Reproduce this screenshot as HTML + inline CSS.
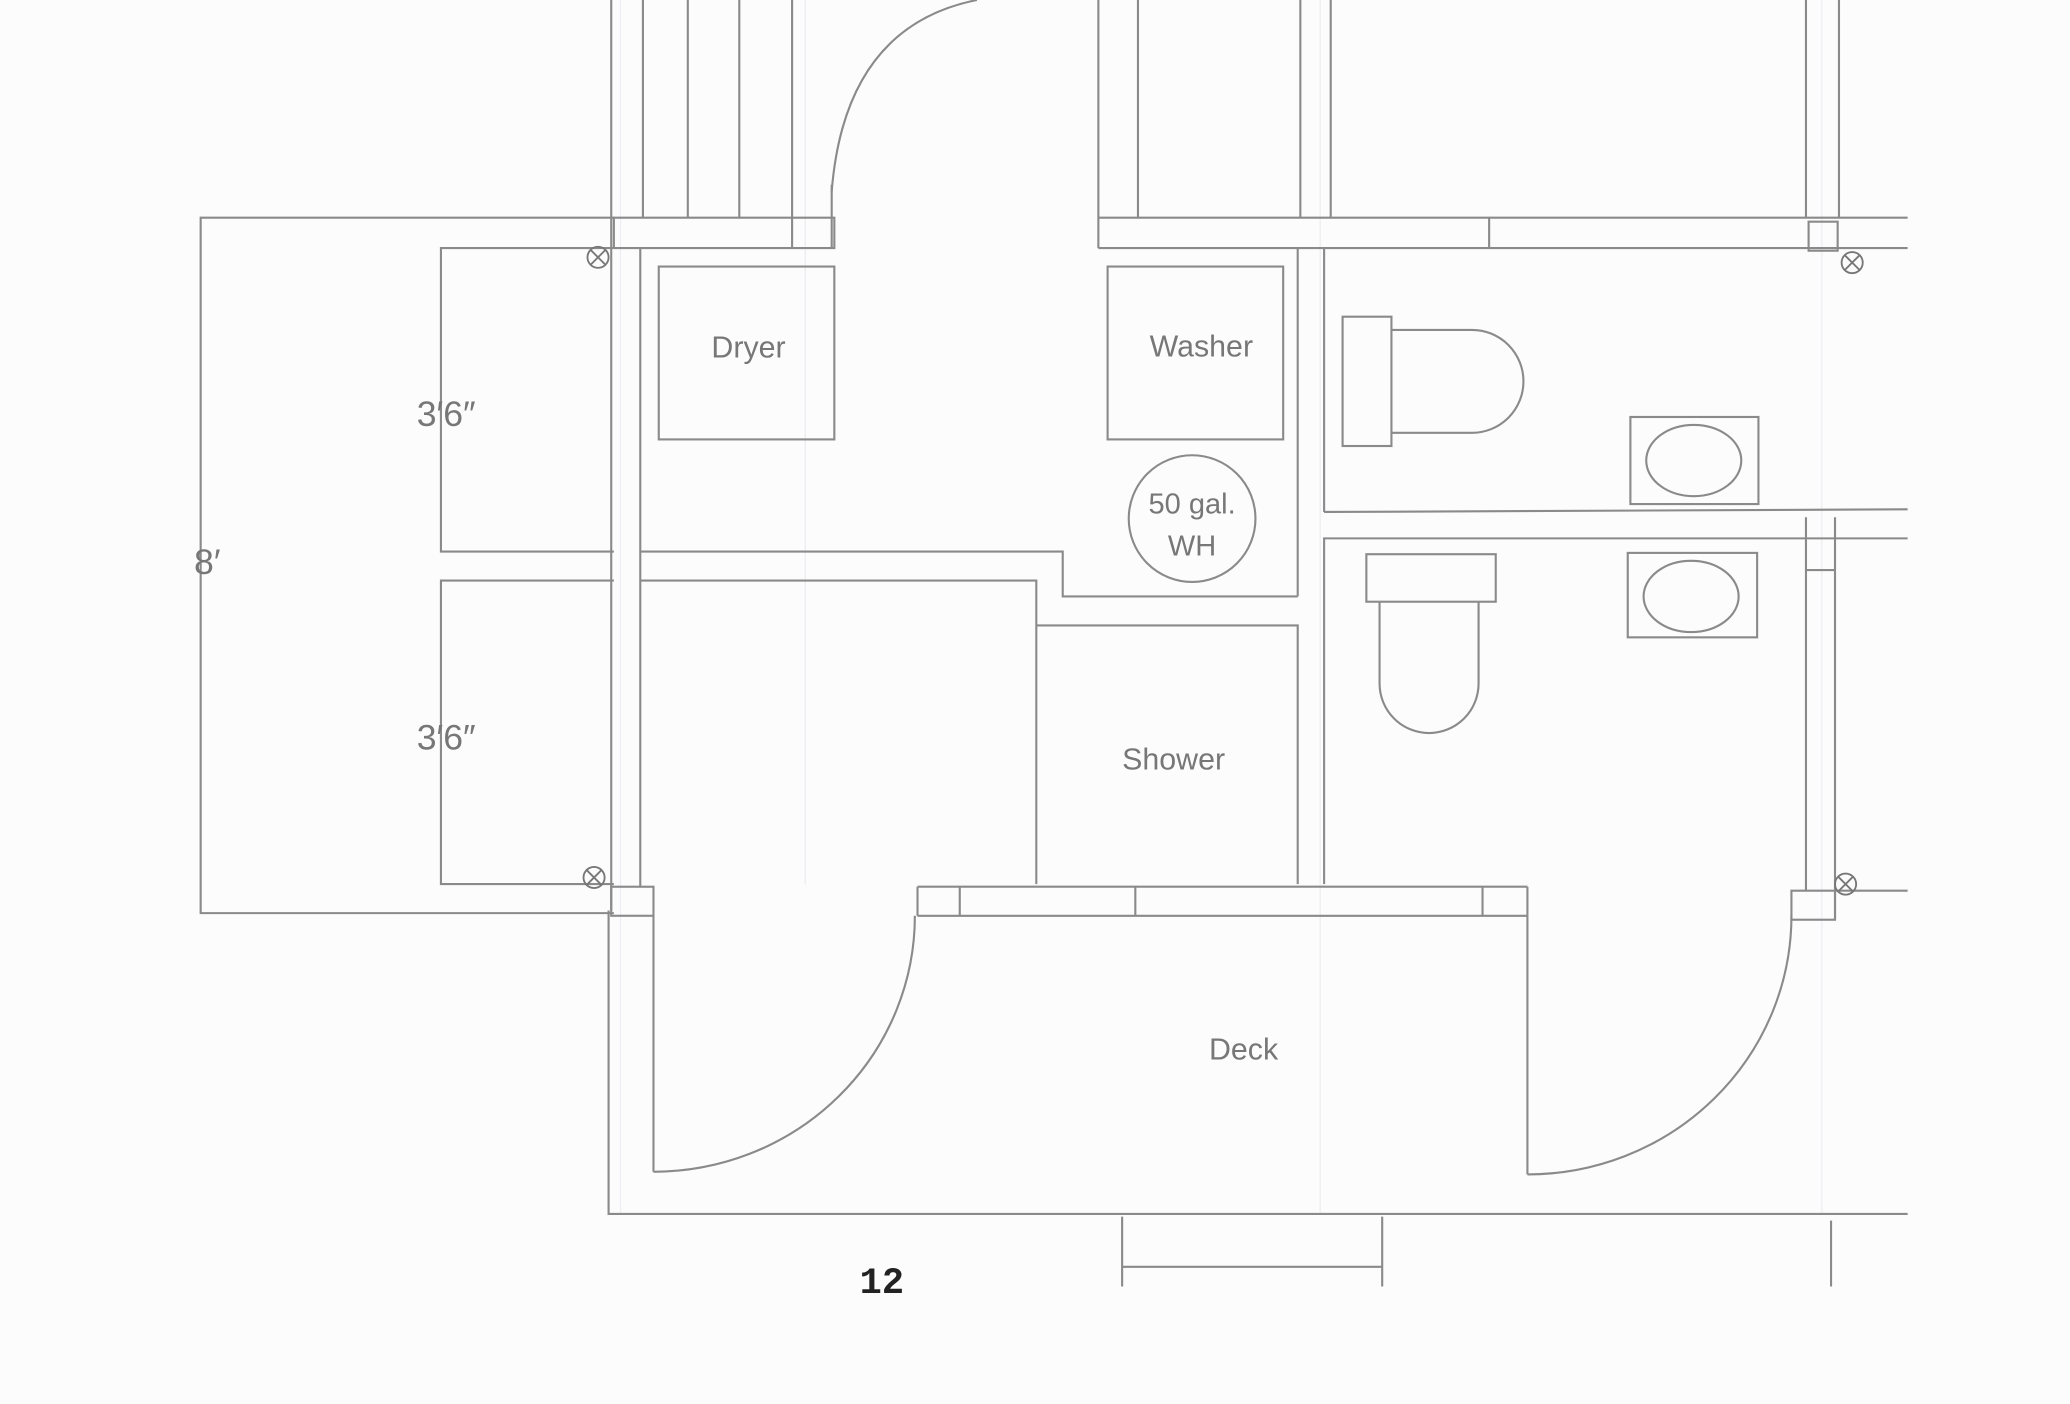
<!DOCTYPE html>
<html><head><meta charset="utf-8"><style>
html,body{margin:0;padding:0;background:#fcfcfd;}
svg{display:block;}
text{font-family:"Liberation Sans",sans-serif;fill:#777;}
</style></head><body>
<svg width="2070" height="1404" viewBox="0 0 1568 1064" preserveAspectRatio="none" xmlns="http://www.w3.org/2000/svg">
<rect width="1568" height="1064" fill="#fcfcfd"/>
<g stroke="#eceef2" stroke-width="1" fill="none">
<line x1="470" y1="0" x2="470" y2="920"/><line x1="610" y1="0" x2="610" y2="670"/>
<line x1="1000" y1="0" x2="1000" y2="920"/><line x1="1380" y1="0" x2="1380" y2="920"/>
</g>
<g stroke="#8a8a8a" stroke-width="1.6" fill="none">
<!-- dimension lines -->
<polyline points="465,165 152,165 152,692 465,692"/>
<polyline points="465,188 334,188 334,418 465,418"/>
<polyline points="465,440 334,440 334,670 465,670"/>
<!-- top verticals -->
<line x1="463" y1="0" x2="463" y2="165"/><line x1="487" y1="0" x2="487" y2="165"/>
<line x1="521" y1="0" x2="521" y2="165"/><line x1="560" y1="0" x2="560" y2="165"/>
<line x1="600" y1="0" x2="600" y2="188"/>
<line x1="630" y1="140" x2="630" y2="188"/>
<path d="M630,145 Q640,20 740,0"/>
<line x1="832" y1="0" x2="832" y2="188"/><line x1="862" y1="0" x2="862" y2="165"/>
<line x1="985" y1="0" x2="985" y2="165"/><line x1="1008" y1="0" x2="1008" y2="165"/>
<line x1="1368" y1="0" x2="1368" y2="165"/><line x1="1393" y1="0" x2="1393" y2="165"/>
<!-- top wall -->
<polyline points="465,188 465,165 632,165 632,188 465,188"/>
<polyline points="832,165 1445,165"/><polyline points="832,188 1445,188"/>
<line x1="1128" y1="165" x2="1128" y2="188"/>
<rect x="1370" y="168" width="22" height="22"/>
<!-- left wall -->
<line x1="463" y1="165" x2="463" y2="690"/><line x1="485" y1="188" x2="485" y2="672"/>
<!-- appliances -->
<rect x="499" y="202" width="133" height="131"/>
<rect x="839" y="202" width="133" height="131"/>
<circle cx="903" cy="393" r="48"/>
<!-- interior walls -->
<line x1="983" y1="188" x2="983" y2="452"/>
<line x1="1003" y1="188" x2="1003" y2="388"/>
<polyline points="1445,386 1003,388"/>
<polyline points="1445,408 1003,408 1003,670"/>
<polyline points="485,418 805,418 805,452 983,452"/>
<polyline points="485,440 785,440 785,670"/>
<polyline points="785,474 983,474 983,670"/>
<!-- toilets -->
<rect x="1017" y="240" width="37" height="98"/>
<path d="M1054,250 L1115,250 A39,39 0 0 1 1115,328 L1054,328"/>
<rect x="1035" y="420" width="98" height="36"/>
<path d="M1045,456 L1045,518 A37,37 0 0 0 1120,518 L1120,456"/>
<!-- sinks -->
<rect x="1235" y="316" width="97" height="66"/><ellipse cx="1283" cy="349" rx="36" ry="27"/>
<rect x="1233" y="419" width="98" height="64"/><ellipse cx="1281" cy="452" rx="36" ry="27"/>
<!-- right wall -->
<line x1="1368" y1="392" x2="1368" y2="675"/><line x1="1390" y1="392" x2="1390" y2="697"/>
<line x1="1368" y1="432" x2="1390" y2="432"/>
<!-- bottom wall -->
<line x1="695" y1="672" x2="1157" y2="672"/><line x1="695" y1="694" x2="1157" y2="694"/>
<line x1="695" y1="672" x2="695" y2="694"/><line x1="727" y1="672" x2="727" y2="694"/>
<line x1="860" y1="672" x2="860" y2="694"/><line x1="1123" y1="672" x2="1123" y2="694"/>
<line x1="1157" y1="672" x2="1157" y2="694"/>
<rect x="463" y="672" width="32" height="22"/>
<rect x="1357" y="675" width="33" height="22"/>
<line x1="1390" y1="675" x2="1445" y2="675"/>
<!-- doors -->
<line x1="495" y1="694" x2="495" y2="888"/>
<path d="M495,888 A198,194 0 0 0 693,694"/>
<line x1="1157" y1="694" x2="1157" y2="890"/>
<path d="M1157,890 A200,196 0 0 0 1357,694"/>
<!-- deck -->
<polyline points="461,690 461,920 1445,920"/>
<line x1="850" y1="922" x2="850" y2="975"/><line x1="1047" y1="922" x2="1047" y2="975"/>
<line x1="850" y1="960" x2="1047" y2="960"/>
<line x1="1387" y1="925" x2="1387" y2="975"/>
</g>
<g stroke="#777" stroke-width="1.4" fill="none">
<circle cx="453" cy="195" r="8"/><path d="M447,189 L459,201 M459,189 L447,201"/>
<circle cx="450" cy="665" r="8"/><path d="M444,659 L456,671 M456,659 L444,671"/>
<circle cx="1403" cy="199" r="8"/><path d="M1397,193 L1409,205 M1409,193 L1397,205"/>
<circle cx="1398" cy="670" r="8"/><path d="M1392,664 L1404,676 M1404,664 L1392,676"/>
</g>
<text x="157" y="435" font-size="27" text-anchor="middle">8′</text>
<text x="338" y="323" font-size="27" text-anchor="middle">3′6″</text>
<text x="338" y="568" font-size="27" text-anchor="middle">3′6″</text>
<text x="567" y="271" font-size="23" text-anchor="middle">Dryer</text>
<text x="910" y="270" font-size="23" text-anchor="middle">Washer</text>
<text x="903" y="389" font-size="22" text-anchor="middle">50 gal.</text>
<text x="903" y="421" font-size="22" text-anchor="middle">WH</text>
<text x="889" y="583" font-size="23" text-anchor="middle">Shower</text>
<text x="942" y="803" font-size="23" text-anchor="middle">Deck</text>
<text x="668" y="980" font-size="28" text-anchor="middle" style="font-family:'Liberation Mono',monospace;fill:#222;font-weight:bold">12</text>
</svg>
</body></html>
